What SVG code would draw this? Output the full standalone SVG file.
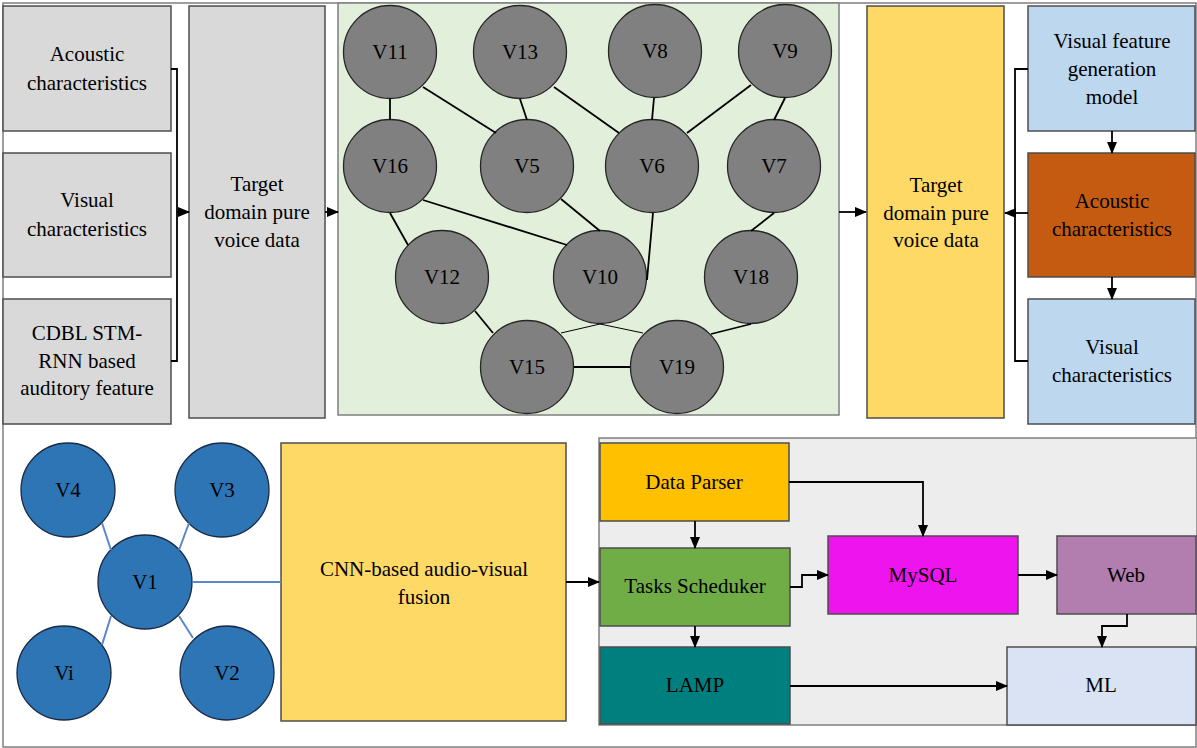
<svg xmlns="http://www.w3.org/2000/svg" width="1197" height="748" viewBox="0 0 1197 748">
<defs>
<marker id="ah" markerUnits="userSpaceOnUse" markerWidth="12" markerHeight="10" refX="11" refY="5" orient="auto"><path d="M0,0 L12,5 L0,10 Z" fill="#000"/></marker>
<style>
.gbox{fill:#d9d9d9;stroke:#4d4d4d;stroke-width:1.5}
.ybox{fill:#ffd966;stroke:#4d4d4d;stroke-width:1.5}
.bbox{fill:#bdd7ee;stroke:#4d4d4d;stroke-width:1.5}
.gc{fill:#808080;stroke:#262626;stroke-width:1.3}
.bc{fill:#2e75b6;stroke:#1a2a44;stroke-width:1.3}
.e{stroke:#000;stroke-width:1.8;fill:none}
.eb{stroke:#5b87c9;stroke-width:2;fill:none}
.c{stroke:#000;stroke-width:1.8;fill:none}
.ca{stroke:#000;stroke-width:1.8;fill:none;marker-end:url(#ah)}
.bx{stroke:#4d4d4d;stroke-width:1.5}
</style>
</defs>
<rect x="0" y="0" width="1197" height="748" fill="#fff"/>
<rect x="3" y="3" width="1193" height="744" fill="none" stroke="#7f7f7f" stroke-width="1.5"/>

<g font-family="Liberation Serif" font-size="21" fill="#000" text-anchor="middle">
<g id="acoustic-left"><rect class="gbox" x="3" y="6" width="168" height="125"/><text x="87" y="61">Acoustic</text><text x="87" y="90">characteristics</text></g>
<g id="visual-left"><rect class="gbox" x="3" y="153" width="168" height="124"/><text x="87" y="207">Visual</text><text x="87" y="236">characteristics</text></g>
<g id="cdbl"><rect class="gbox" x="3" y="299" width="168" height="125"/><text x="87" y="340">CDBL STM-</text><text x="87" y="368">RNN based</text><text x="87" y="395">auditory feature</text></g>
<g id="target-left"><rect class="gbox" x="189" y="6" width="136" height="412"/><text x="257" y="191">Target</text><text x="257" y="219">domain pure</text><text x="257" y="247">voice data</text></g>

<g id="graph-box"><rect x="338" y="3" width="501" height="412" fill="#e2efda" stroke="#7f7f7f" stroke-width="1.5"/></g>

<g id="V11"><circle class="gc" cx="390" cy="52" r="46.5"/><text x="390" y="59">V11</text></g>
<g id="V13"><circle class="gc" cx="520" cy="52" r="46.5"/><text x="520" y="59">V13</text></g>
<g id="V8"><circle class="gc" cx="655" cy="51" r="46.5"/><text x="655" y="58">V8</text></g>
<g id="V9"><circle class="gc" cx="785" cy="51" r="46.5"/><text x="785" y="58">V9</text></g>
<g id="V16"><circle class="gc" cx="390" cy="166" r="46.5"/><text x="390" y="173">V16</text></g>
<g id="V5"><circle class="gc" cx="527" cy="166" r="46.5"/><text x="527" y="173">V5</text></g>
<g id="V6"><circle class="gc" cx="652" cy="166" r="46.5"/><text x="652" y="173">V6</text></g>
<g id="V7"><circle class="gc" cx="774" cy="166" r="46.5"/><text x="774" y="173">V7</text></g>
<g id="V12"><circle class="gc" cx="442" cy="277" r="46.5"/><text x="442" y="284">V12</text></g>
<g id="V10"><circle class="gc" cx="600" cy="277" r="46.5"/><text x="600" y="284">V10</text></g>
<g id="V18"><circle class="gc" cx="751" cy="277" r="46.5"/><text x="751" y="284">V18</text></g>
<g id="V15"><circle class="gc" cx="527" cy="367" r="46.5"/><text x="527" y="374">V15</text></g>
<g id="V19"><circle class="gc" cx="677" cy="367" r="46.5"/><text x="677" y="374">V19</text></g>

<g id="target-right"><rect class="ybox" x="867" y="6" width="137" height="412"/><text x="936" y="192">Target</text><text x="936" y="220">domain pure</text><text x="936" y="247">voice data</text></g>
<g id="vfgm"><rect class="bbox" x="1028" y="6" width="167" height="125"/><text x="1112" y="48">Visual feature</text><text x="1112" y="76">generation</text><text x="1112" y="104">model</text></g>
<g id="acoustic-right"><rect x="1028" y="153" width="167" height="124" fill="#c55a11" stroke="#4d4d4d" stroke-width="1.5"/><text x="1112" y="208">Acoustic</text><text x="1112" y="236">characteristics</text></g>
<g id="visual-right"><rect class="bbox" x="1028" y="299" width="167" height="125"/><text x="1112" y="354">Visual</text><text x="1112" y="382">characteristics</text></g>

<g id="V4"><circle class="bc" cx="68" cy="490" r="47"/><text x="68" y="497">V4</text></g>
<g id="V3"><circle class="bc" cx="222" cy="490" r="47"/><text x="222" y="497">V3</text></g>
<g id="V1"><circle class="bc" cx="145" cy="582" r="47"/><text x="145" y="589">V1</text></g>
<g id="Vi"><circle class="bc" cx="64" cy="673" r="47"/><text x="64" y="680">Vi</text></g>
<g id="V2"><circle class="bc" cx="227" cy="673" r="47"/><text x="227" y="680">V2</text></g>
<g id="cnn"><rect class="ybox" x="281" y="443" width="285" height="278"/><text x="424" y="576">CNN-based audio-visual</text><text x="424" y="604">fusion</text></g>

<g id="container"><rect x="599" y="438" width="598" height="287" fill="#ededed" stroke="#7f7f7f" stroke-width="1.5"/></g>
<g id="data-parser"><rect class="bx" x="600" y="443" width="189" height="78" fill="#ffc000"/><text x="694" y="489">Data Parser</text></g>
<g id="tasks"><rect class="bx" x="600" y="548" width="190" height="78" fill="#70ad47"/><text x="695" y="593">Tasks Scheduker</text></g>
<g id="lamp"><rect class="bx" x="600" y="647" width="190" height="77" fill="#007f7f"/><text x="695" y="692">LAMP</text></g>
<g id="mysql"><rect class="bx" x="828" y="536" width="190" height="78" fill="#ee14ee"/><text x="923" y="582">MySQL</text></g>
<g id="web"><rect class="bx" x="1057" y="536" width="139" height="78" fill="#b17eaf"/><text x="1126" y="582">Web</text></g>
<g id="ml"><rect class="bx" x="1007" y="647" width="189" height="78" fill="#dae3f3"/><text x="1101" y="692">ML</text></g>
</g>

<g id="connectors">
<path class="c" d="M171,69 H177 V361 H171"/>
<path class="ca" d="M177,212 H189"/>
<path class="ca" d="M325,212 H338"/>
<path class="ca" d="M839,212 H866"/>
<path class="c" d="M1028,69 H1015 V361 H1028"/>
<path class="ca" d="M1028,213 H1005"/>
<path class="ca" d="M1112,131 V153"/>
<path class="ca" d="M1112,277 V299"/>
<path class="e" d="M390,98.5 V119.5"/>
<path class="e" d="M423,87 L496,133"/>
<path class="e" d="M520,99 L527,120"/>
<path class="e" d="M554,87 L619,133"/>
<path class="e" d="M654,98 L652,120"/>
<path class="e" d="M751,85 L687,133"/>
<path class="e" d="M785,98 L774,120"/>
<path class="e" d="M423,200 L567,245"/>
<path class="e" d="M390,213 L408,245"/>
<path class="e" d="M561,199 L600,231"/>
<path class="e" d="M653,213 L647,280"/>
<path class="e" d="M774,213 L751,231"/>
<path class="e" d="M475,311 L493,333"/>
<path class="e" d="M574,367 H630"/>
<path stroke="#000" stroke-width="1" fill="none" d="M561,333 L600,324 L643,333"/>
<path class="e" d="M711,334 L751,324"/>
<path class="eb" d="M102,523 L111,550"/>
<path class="eb" d="M189,523 L179,550"/>
<path class="eb" d="M111,616 L102,645"/>
<path class="eb" d="M179,616 L193,638"/>
<path class="eb" d="M192,582 H281"/>
<path class="ca" d="M566,582 H599"/>
<path class="ca" d="M695,521 V548"/>
<path class="ca" d="M789,482 H923 V536"/>
<path class="ca" d="M790,587 H802 V575 H828"/>
<path class="ca" d="M695,626 V647"/>
<path class="ca" d="M1018,575 H1057"/>
<path class="ca" d="M1127,614 V626 H1102 V647"/>
<path class="ca" d="M790,686 H1007"/>
</g>
</svg>
